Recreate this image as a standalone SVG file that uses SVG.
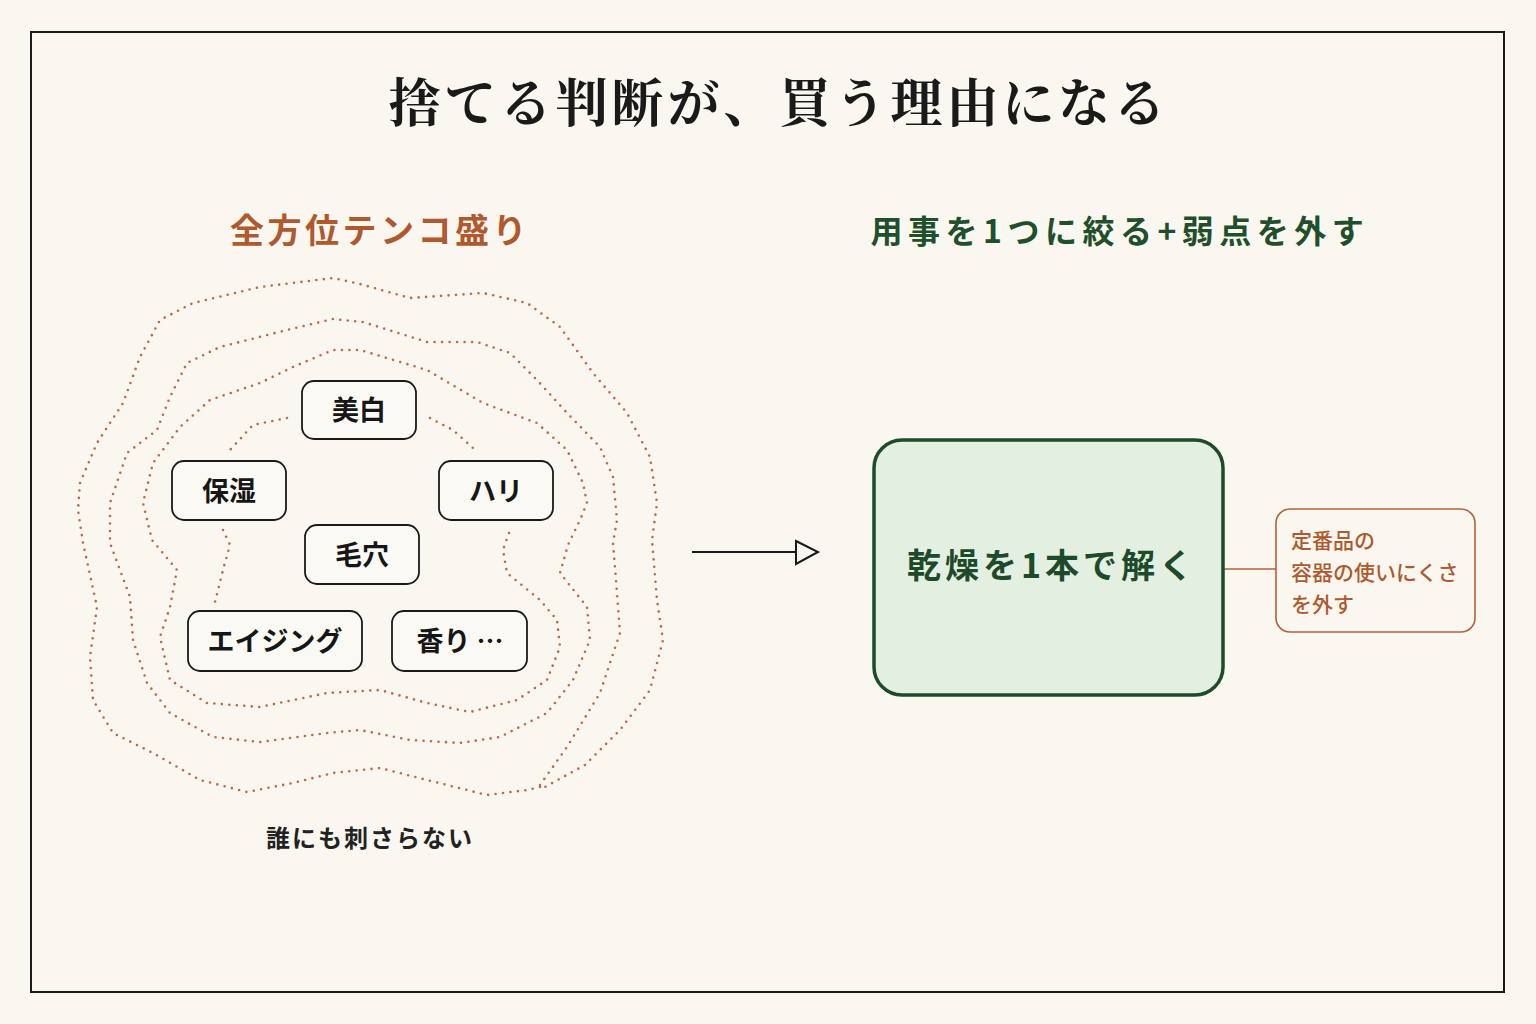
<svg xmlns="http://www.w3.org/2000/svg" width="1536" height="1024" viewBox="0 0 1536 1024">
  <defs>
    <style>
      .bg { fill: #faf7f0; }
      .frame { fill: none; stroke: #1a1a1a; stroke-width: 2; }
      .title { font-family: "Noto Serif CJK JP", "Noto Sans CJK JP", serif; font-weight: 700; font-size: 52px; fill: #1a1a1a; letter-spacing: 3.8px; }
      .hl { font-family: "Noto Sans CJK JP", "Noto Sans", sans-serif; font-weight: 700; font-size: 34px; fill: #b0592f; letter-spacing: 3.5px; }
      .hr { font-family: "Noto Sans CJK JP", "Noto Sans", sans-serif; font-weight: 700; font-size: 32px; fill: #1f4f2b; letter-spacing: 5.5px; }
      .dots { fill: none; stroke: #bf6a44; stroke-width: 2.6; stroke-linecap: round; stroke-linejoin: round; stroke-dasharray: 0 7.5; }
      .node rect { fill: #fbf9f4; stroke: #1a1a1a; stroke-width: 1.8; }
      .node text { font-family: "Noto Sans CJK JP", "Noto Sans", sans-serif; font-weight: 700; font-size: 27px; fill: #161616; text-anchor: middle; }
      .main rect { fill: #e3efe0; stroke: #1d4b2b; stroke-width: 3.5; }
      .main text { font-family: "Noto Sans CJK JP", "Noto Sans", sans-serif; font-weight: 700; font-size: 34px; fill: #1d4a2a; text-anchor: middle; letter-spacing: 4px; }
      .note rect { fill: none; stroke: #b5623a; stroke-width: 1.6; }
      .note text { font-family: "Noto Sans CJK JP", "Noto Sans", sans-serif; font-weight: 500; font-size: 21px; fill: #b0592f; }
      .cap { font-family: "Noto Sans CJK JP", "Noto Sans", sans-serif; font-weight: 700; font-size: 24px; fill: #222; letter-spacing: 2px; text-anchor: middle; }
      .conn { fill: none; stroke: #1a1a1a; stroke-width: 2; }
      .conn-note { fill: none; stroke: #b5623a; stroke-width: 1.6; }
    </style>
  </defs>

  <rect class="bg" x="0" y="0" width="1536" height="1024"/>
  <rect class="frame" x="31" y="32" width="1473" height="960"/>

  <text class="title" x="779" y="122" text-anchor="middle">捨てる判断が、買う理由になる</text>
  <text class="hl" x="380" y="243" text-anchor="middle">全方位テンコ盛り</text>
  <text class="hr" x="1120" y="243" text-anchor="middle">用事を1つに絞る+弱点を外す</text>

  <g id="halo">
    <path class="dots" d="M 540,787 L 527,790 487,795 427,780 380,768 333,773 293,783 247,792 200,780 153,753 113,733 93,700 90,657 97,607 83,543 78,510 80,483 97,443 123,403 140,357 160,320 193,303 260,287 333,278 360,284 410,298 483,293 527,303 560,327 593,373 627,413 650,457 657,503 652,540 657,600 663,640 650,690 620,730 585,765 545,787"/>
    <path class="dots" d="M 540,785 L 567,747 600,693 620,633 616,580 613,543 617,520 613,477 600,447 567,413 537,380 510,353 477,342 427,342 363,322 333,319 287,330 220,347 187,363 170,397 157,430 127,453 110,503 110,543 130,597 133,640 147,683 170,713 213,737 260,742 327,733 360,730 410,740 460,743 500,737 547,713 573,680 590,640 587,607 560,573 568,545 580,520 587,503 583,483 567,450 537,423 483,403 427,370 360,350 333,350 293,367 260,383 210,400 180,427 153,463 143,503 152,540 177,570 170,607 160,637 170,680 207,703 260,707 327,693 380,690 427,703 470,712 517,700 547,680 560,647 557,620 540,600 507,573 503,550 510,530"/>
    <path class="dots" d="M 287,418 L 253,425 230,450"/>
    <path class="dots" d="M 430,418 L 453,430 473,448"/>
    <path class="dots" d="M 223,530 L 230,545 223,570 215,602"/>
  </g>

  <g id="node-bihaku" class="node"><rect x="302" y="381" width="114" height="58" rx="12"/><text x="359" y="420">美白</text></g>
  <g id="node-hoshitsu" class="node"><rect x="172" y="461" width="114" height="59" rx="12"/><text x="229" y="501">保湿</text></g>
  <g id="node-hari" class="node"><rect x="439" y="461" width="114" height="59" rx="12"/><text x="496" y="501">ハリ</text></g>
  <g id="node-keana" class="node"><rect x="305" y="525" width="114" height="59" rx="12"/><text x="362" y="565">毛穴</text></g>
  <g id="node-aging" class="node"><rect x="188" y="611" width="174" height="60" rx="12"/><text x="275" y="651">エイジング</text></g>
  <g id="node-kaori" class="node"><rect x="392" y="611" width="135" height="60" rx="12"/><text x="460" y="651">香り …</text></g>

  <text id="caption" class="cap" x="370" y="847">誰にも刺さらない</text>

  <g id="connectors">
    <line class="conn" x1="692" y1="552" x2="796" y2="552"/>
    <polygon class="conn" points="796,541 818,552 796,564"/>
    <line class="conn-note" x1="1223" y1="569" x2="1276" y2="569"/>
  </g>

  <g id="node-main" class="main">
    <rect x="874" y="440" width="349" height="255" rx="28"/>
    <text x="1052" y="578">乾燥を1本で解く</text>
  </g>

  <g id="node-note" class="note">
    <rect x="1276" y="509" width="199" height="123" rx="14"/>
    <text x="1291" y="548">定番品の</text>
    <text x="1291" y="580">容器の使いにくさ</text>
    <text x="1291" y="612">を外す</text>
  </g>
</svg>
